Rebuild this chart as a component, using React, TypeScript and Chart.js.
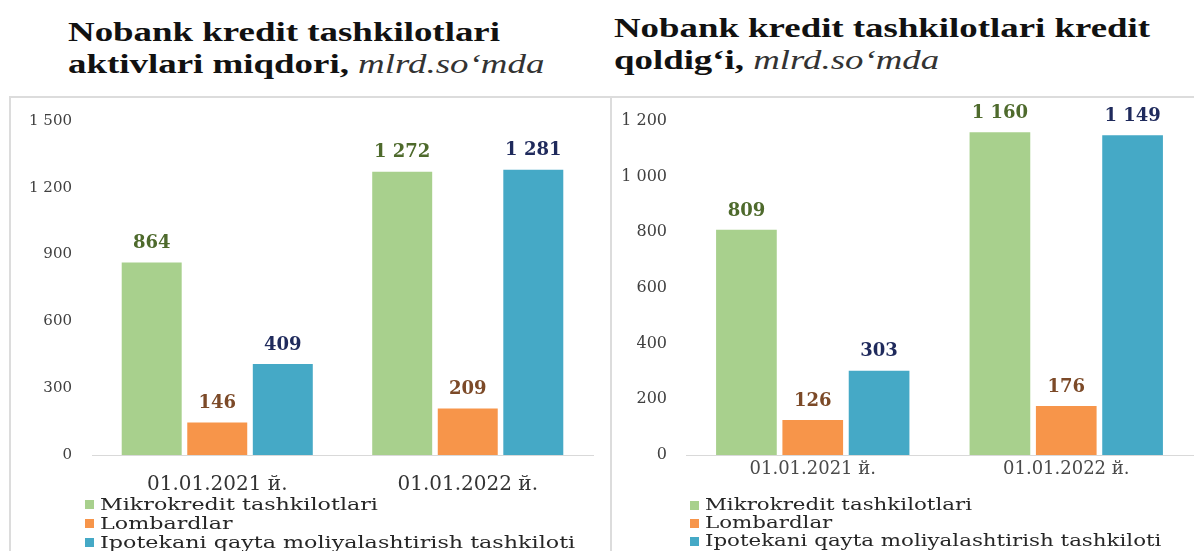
import React, { useEffect, useLayoutEffect, useRef } from "react";
import { Chart, registerables } from "chart.js";

Chart.register(...registerables);

const categories = ["01.01.2021 й.", "01.01.2022 й."];
const seriesNames = [
  "Mikrokredit tashkilotlari",
  "Lombardlar",
  "Ipotekani qayta moliyalashtirish tashkiloti",
];
const assetsMikro = [864, 1272];
const assetsLombard = [146, 209];
const assetsIpoteka = [409, 1281];
const loansMikro = [809, 1160];
const loansLombard = [126, 176];
const loansIpoteka = [303, 1149];
const assetsAxisMax = 1500;
const assetsAxisStep = 300;
const loansAxisMax = 1200;
const loansAxisStep = 200;

const barColors = ["#A8D08D", "#F7954A", "#45A9C6"];
const labelColors = ["#4E6A2C", "#7C4A28", "#1F2A5C"];

const TSERIF = "'Liberation Serif', 'Times New Roman', Times, 'DejaVu Serif', serif";
const DSERIF = "'DejaVu Serif', serif";

function fmt(v: number): string {
  const s = String(Math.round(v));
  return s.replace(/\B(?=(\d{3})+(?!\d))/g, " ");
}

const valueLabels = {
  id: "valueLabels",
  afterDatasetsDraw(chart: any, _args: any, opts: any) {
    const ctx = chart.ctx;
    chart.data.datasets.forEach((ds: any, i: number) => {
      const meta = chart.getDatasetMeta(i);
      meta.data.forEach((el: any, j: number) => {
        ctx.save();
        ctx.font = opts.font;
        ctx.fillStyle = labelColors[i];
        ctx.textAlign = "center";
        ctx.textBaseline = "middle";
        ctx.fillText(fmt(ds.data[j]), el.x, el.y - opts.offset);
        ctx.restore();
      });
    });
  },
};

type PanelProps = {
  series: number[][];
  yMax: number;
  yStep: number;
  width: number;
  height: number;
  axisWidth: number;
  tickPad: number;
  rightPad: number;
  catFontSize: number;
  catPad: number;
  catColor: string;
  tickFontSize: number;
  labelFontSize: number;
};

function BarPanel(p: PanelProps) {
  const ref = useRef<HTMLCanvasElement | null>(null);
  useEffect(() => {
    if (!ref.current) return;
    const chart = new Chart(ref.current, {
      type: "bar",
      data: {
        labels: categories,
        datasets: p.series.map((d, i) => ({
          label: seriesNames[i],
          data: d,
          backgroundColor: barColors[i],
          borderWidth: 0,
          categoryPercentage: 0.785,
          barPercentage: 0.915,
        })),
      },
      options: {
        responsive: false,
        animation: false,
        devicePixelRatio: 1,
        layout: { padding: { top: 23, right: p.rightPad, bottom: 0, left: 0 } },
        plugins: {
          legend: { display: false },
          tooltip: { enabled: false },
          valueLabels: { font: `bold ${p.labelFontSize}px ${DSERIF}`, offset: 19 },
        } as any,
        scales: {
          x: {
            grid: { display: false, drawTicks: false },
            border: { display: true, color: "#D9D9D9", width: 1 },
            ticks: {
              padding: p.catPad,
              color: p.catColor,
              font: { family: DSERIF, size: p.catFontSize },
              maxRotation: 0,
            },
            afterFit: (s: any) => {
              s.height = 40;
            },
          },
          y: {
            min: 0,
            max: p.yMax,
            grid: { display: false, drawTicks: false },
            border: { display: false },
            ticks: {
              stepSize: p.yStep,
              padding: p.tickPad,
              color: "#404040",
              font: { family: DSERIF, size: p.tickFontSize },
              callback: (v: any) => fmt(Number(v)),
            },
            afterFit: (s: any) => {
              s.width = p.axisWidth;
              s.paddingTop = 0;
              s.paddingBottom = 0;
            },
          },
        },
      },
      plugins: [valueLabels],
    });
    return () => chart.destroy();
  }, []);
  return <canvas ref={ref} width={p.width} height={p.height} style={{ width: p.width, height: p.height, display: "block" }} />;
}

function Title({ left, top, target, line1, line2a, unitText }: { left: number; top: number; target: number; line1: string; line2a: string; unitText: string }) {
  const boxRef = useRef<HTMLDivElement | null>(null);
  const firstRef = useRef<HTMLSpanElement | null>(null);
  useLayoutEffect(() => {
    if (!boxRef.current || !firstRef.current) return;
    const w = firstRef.current.getBoundingClientRect().width;
    if (w > 0) boxRef.current.style.transform = `scaleX(${target / w})`;
  }, []);
  return (
    <div
      ref={boxRef}
      style={{
        position: "absolute",
        left,
        top,
        fontFamily: TSERIF,
        fontWeight: "bold",
        fontSize: 27,
        lineHeight: "32px",
        color: "#111",
        whiteSpace: "nowrap",
        transformOrigin: "0 0",
      }}
    >
      <span ref={firstRef} style={{ display: "inline-block" }}>{line1}</span>
      <br />
      <span style={{ display: "inline-block" }}>
        {line2a}
        <span style={{ fontWeight: "normal", fontStyle: "italic", color: "#333" }}>{unitText}</span>
      </span>
    </div>
  );
}

function Legend({ left, top, fontSize, lineH, target }: { left: number; top: number; fontSize: number; lineH: number; target: number }) {
  const refs = useRef<(HTMLSpanElement | null)[]>([]);
  useLayoutEffect(() => {
    const first = refs.current[0];
    if (!first) return;
    const w = first.getBoundingClientRect().width;
    if (w <= 0) return;
    const k = target / w;
    refs.current.forEach((el) => {
      if (el) el.style.transform = `scaleX(${k})`;
    });
  }, []);
  return (
    <div style={{ position: "absolute", left, top, fontFamily: DSERIF, fontSize, color: "#262626", lineHeight: `${lineH}px`, whiteSpace: "nowrap" }}>
      {seriesNames.map((n, i) => (
        <div key={n} style={{ display: "flex", alignItems: "center" }}>
          <span style={{ display: "inline-block", width: 9, height: 9, background: barColors[i], marginRight: 6, flex: "none" }} />
          <span
            ref={(el) => {
              refs.current[i] = el;
            }}
            style={{ display: "inline-block", transformOrigin: "0 50%" }}
          >
            {n}
          </span>
        </div>
      ))}
    </div>
  );
}

export default function App() {
  useLayoutEffect(() => {
    document.body.style.margin = "0";
  }, []);
  return (
    <div style={{ position: "relative", width: 1194, height: 551, overflow: "hidden", background: "#fff" }}>
      <Title left={68} top={16} target={432} line1="Nobank kredit tashkilotlari" line2a="aktivlari miqdori, " unitText="mlrd.so‘mda" />
      <Title left={614} top={12} target={536} line1="Nobank kredit tashkilotlari kredit" line2a="qoldig‘i, " unitText="mlrd.so‘mda" />
      <div style={{ position: "absolute", left: 9, top: 96, width: 1185, height: 2, background: "#DCDCDC" }} />
      <div style={{ position: "absolute", left: 9, top: 96, width: 2, height: 455, background: "#DCDCDC" }} />
      <div style={{ position: "absolute", left: 610, top: 96, width: 2, height: 455, background: "#DCDCDC" }} />
      <div style={{ position: "absolute", left: 11, top: 98 }}>
        <BarPanel
          series={[assetsMikro, assetsLombard, assetsIpoteka]}
          yMax={assetsAxisMax}
          yStep={assetsAxisStep}
          width={599}
          height={397}
          axisWidth={81}
          tickPad={20}
          rightPad={17}
          catFontSize={20}
          catPad={18}
          catColor="#333333"
          tickFontSize={15}
          labelFontSize={18}
        />
      </div>
      <div style={{ position: "absolute", left: 612, top: 98 }}>
        <BarPanel
          series={[loansMikro, loansLombard, loansIpoteka]}
          yMax={loansAxisMax}
          yStep={loansAxisStep}
          width={582}
          height={397}
          axisWidth={74}
          tickPad={19}
          rightPad={1}
          catFontSize={18}
          catPad={4}
          catColor="#4A4A4A"
          tickFontSize={16}
          labelFontSize={18}
        />
      </div>
      <Legend left={85} top={495} fontSize={17} lineH={19} target={278} />
      <Legend left={690} top={496} fontSize={16} lineH={18} target={267} />
    </div>
  );
}
